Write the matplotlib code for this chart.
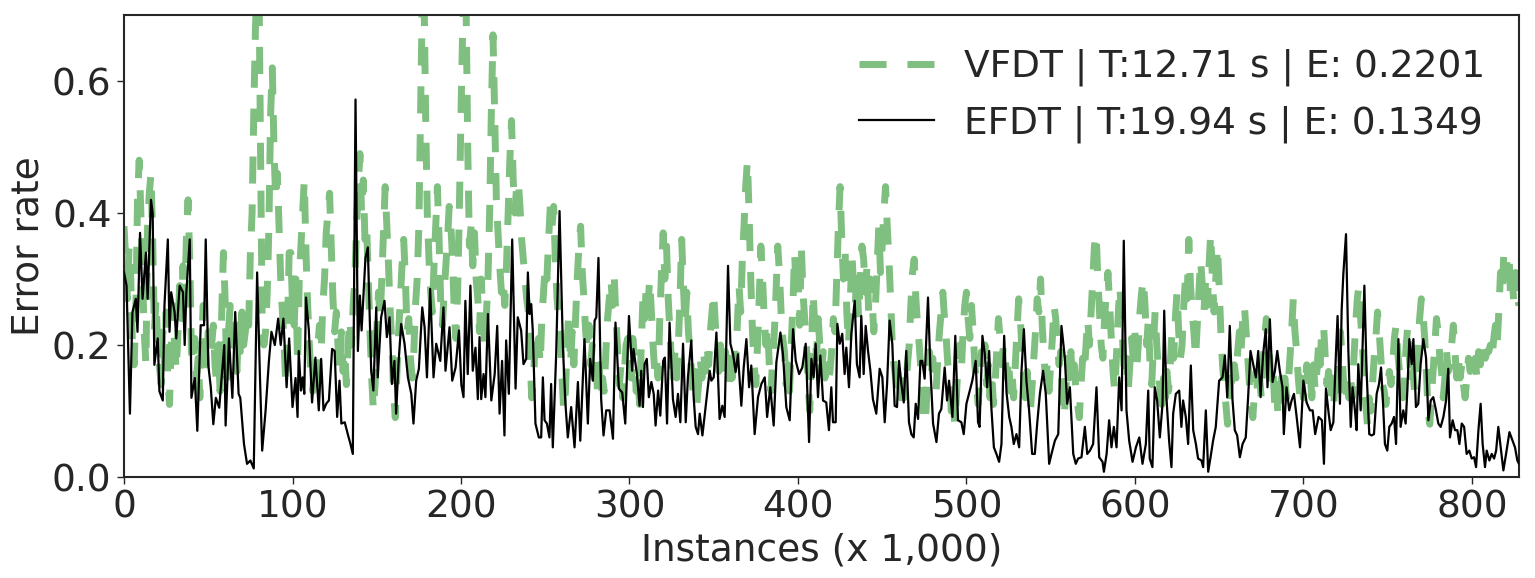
import numpy as np
import matplotlib
matplotlib.use("Agg")
import matplotlib.pyplot as plt

# ---------------- data ----------------
vfdt_label = "VFDT | T:12.71 s | E: 0.2201"
efdt_label = "EFDT | T:19.94 s | E: 0.1349"

# VFDT error rate, one value per 1,000 instances (x = 0 .. 828)
vfdt = [
    0.38,0.33,0.27,0.35,0.30,0.20,0.17,0.25,0.42,0.48,
    0.40,0.30,0.22,0.17,0.38,0.43,0.46,0.36,0.22,0.27,
    0.20,0.17,0.14,0.22,0.17,0.25,0.15,0.11,0.20,0.26,
    0.20,0.16,0.22,0.29,0.24,0.32,0.26,0.36,0.42,0.33,
    0.19,0.17,0.21,0.15,0.18,0.12,0.20,0.26,0.21,0.17,
    0.22,0.18,0.20,0.23,0.17,0.14,0.20,0.13,0.25,0.34,
    0.27,0.15,0.22,0.26,0.20,0.24,0.22,0.16,0.23,0.19,
    0.25,0.20,0.22,0.25,0.23,0.34,0.40,0.55,0.68,0.75,
    0.78,0.50,0.24,0.20,0.22,0.28,0.38,0.55,0.62,0.50,
    0.42,0.46,0.38,0.30,0.25,0.20,0.14,0.22,0.34,0.34,
    0.26,0.23,0.30,0.17,0.30,0.35,0.40,0.45,0.34,0.26,
    0.20,0.15,0.13,0.17,0.14,0.20,0.23,0.19,0.26,0.30,
    0.37,0.40,0.43,0.35,0.27,0.22,0.25,0.20,0.16,0.22,
    0.16,0.19,0.14,0.20,0.24,0.20,0.26,0.30,0.38,0.44,
    0.49,0.40,0.45,0.36,0.38,0.30,0.22,0.15,0.10,0.14,
    0.22,0.28,0.24,0.30,0.37,0.44,0.38,0.32,0.25,0.20,
    0.13,0.09,0.16,0.22,0.27,0.32,0.36,0.30,0.22,0.24,
    0.18,0.15,0.19,0.26,0.30,0.38,0.55,0.72,0.75,0.55,
    0.40,0.33,0.28,0.25,0.32,0.38,0.44,0.36,0.26,0.23,
    0.28,0.32,0.36,0.41,0.38,0.33,0.25,0.21,0.28,0.40,
    0.55,0.68,0.75,0.72,0.50,0.35,0.38,0.32,0.37,0.30,
    0.27,0.22,0.30,0.25,0.20,0.24,0.30,0.40,0.55,0.67,
    0.55,0.42,0.37,0.32,0.28,0.30,0.26,0.32,0.40,0.48,
    0.54,0.45,0.40,0.44,0.45,0.41,0.36,0.33,0.30,0.27,
    0.25,0.18,0.12,0.15,0.20,0.18,0.21,0.17,0.24,0.28,
    0.32,0.30,0.36,0.41,0.38,0.41,0.33,0.27,0.24,0.22,
    0.15,0.10,0.13,0.20,0.25,0.17,0.22,0.17,0.24,0.30,
    0.35,0.38,0.31,0.27,0.22,0.19,0.23,0.17,0.20,0.15,
    0.19,0.13,0.17,0.12,0.15,0.13,0.19,0.24,0.27,0.30,
    0.26,0.30,0.24,0.19,0.14,0.17,0.12,0.16,0.20,0.21,
    0.17,0.15,0.21,0.18,0.13,0.16,0.11,0.20,0.27,0.24,
    0.29,0.26,0.30,0.25,0.20,0.16,0.18,0.15,0.24,0.31,
    0.37,0.30,0.35,0.27,0.22,0.17,0.14,0.19,0.15,0.20,
    0.27,0.36,0.29,0.23,0.28,0.22,0.19,0.15,0.12,0.16,
    0.11,0.14,0.18,0.15,0.19,0.16,0.20,0.17,0.22,0.25,
    0.28,0.23,0.20,0.16,0.20,0.17,0.15,0.19,0.16,0.14,
    0.19,0.15,0.20,0.17,0.23,0.29,0.25,0.33,0.38,0.44,
    0.48,0.40,0.30,0.22,0.17,0.14,0.20,0.27,0.35,0.30,
    0.24,0.20,0.23,0.17,0.13,0.18,0.22,0.28,0.35,0.31,
    0.25,0.21,0.19,0.14,0.17,0.13,0.20,0.26,0.34,0.28,
    0.31,0.23,0.35,0.28,0.24,0.20,0.15,0.10,0.18,0.28,
    0.23,0.18,0.24,0.20,0.16,0.19,0.15,0.17,0.14,0.16,
    0.19,0.24,0.22,0.30,0.38,0.44,0.36,0.30,0.34,0.25,
    0.20,0.26,0.34,0.29,0.26,0.31,0.24,0.30,0.35,0.33,
    0.28,0.32,0.25,0.30,0.27,0.22,0.26,0.32,0.38,0.31,
    0.35,0.40,0.44,0.38,0.33,0.27,0.20,0.17,0.15,0.13,
    0.15,0.12,0.16,0.12,0.14,0.17,0.20,0.26,0.31,0.33,
    0.27,0.23,0.20,0.16,0.12,0.08,0.10,0.15,0.19,0.15,
    0.18,0.15,0.13,0.18,0.22,0.25,0.28,0.24,0.21,0.17,
    0.15,0.10,0.13,0.08,0.12,0.17,0.20,0.16,0.22,0.26,
    0.28,0.24,0.21,0.26,0.22,0.17,0.14,0.11,0.16,0.19,
    0.16,0.20,0.14,0.17,0.12,0.16,0.11,0.14,0.19,0.24,
    0.21,0.17,0.20,0.18,0.15,0.18,0.13,0.16,0.12,0.17,
    0.22,0.27,0.24,0.19,0.15,0.12,0.16,0.12,0.10,0.14,
    0.18,0.22,0.27,0.25,0.30,0.23,0.18,0.15,0.17,0.13,
    0.17,0.21,0.26,0.24,0.20,0.17,0.19,0.12,0.09,0.13,
    0.18,0.15,0.19,0.14,0.17,0.13,0.11,0.09,0.14,0.18,
    0.16,0.20,0.24,0.20,0.25,0.30,0.35,0.37,0.30,0.25,
    0.20,0.18,0.24,0.28,0.31,0.26,0.21,0.16,0.13,0.18,
    0.24,0.29,0.25,0.19,0.15,0.18,0.13,0.17,0.21,0.18,
    0.22,0.16,0.20,0.25,0.28,0.30,0.26,0.20,0.24,0.17,
    0.14,0.20,0.25,0.20,0.16,0.13,0.11,0.15,0.12,0.16,
    0.13,0.17,0.22,0.18,0.24,0.28,0.22,0.18,0.20,0.26,
    0.30,0.27,0.36,0.29,0.25,0.22,0.18,0.23,0.28,0.33,
    0.29,0.25,0.30,0.26,0.32,0.37,0.30,0.25,0.30,0.35,
    0.29,0.22,0.17,0.14,0.11,0.08,0.11,0.15,0.13,0.17,
    0.15,0.19,0.22,0.19,0.24,0.26,0.22,0.18,0.14,0.11,
    0.09,0.13,0.16,0.12,0.15,0.12,0.17,0.21,0.24,0.20,
    0.18,0.14,0.16,0.11,0.14,0.09,0.12,0.15,0.13,0.15,
    0.12,0.14,0.18,0.22,0.27,0.22,0.19,0.15,0.12,0.15,
    0.12,0.14,0.17,0.14,0.16,0.12,0.17,0.13,0.16,0.20,
    0.17,0.23,0.23,0.18,0.14,0.16,0.12,0.15,0.11,0.15,
    0.12,0.17,0.22,0.18,0.14,0.11,0.14,0.12,0.15,0.12,
    0.18,0.23,0.27,0.29,0.24,0.20,0.16,0.11,0.08,0.12,
    0.10,0.14,0.18,0.21,0.25,0.22,0.18,0.14,0.13,0.11,
    0.14,0.16,0.14,0.17,0.21,0.23,0.19,0.16,0.14,0.12,
    0.15,0.20,0.23,0.18,0.14,0.16,0.13,0.16,0.20,0.24,
    0.27,0.25,0.21,0.16,0.10,0.08,0.12,0.16,0.20,0.24,
    0.22,0.18,0.16,0.12,0.15,0.19,0.16,0.17,0.20,0.23,
    0.19,0.15,0.18,0.15,0.17,0.14,0.12,0.15,0.18,0.16,
    0.19,0.17,0.18,0.15,0.19,0.17,0.20,0.20,0.18,0.19,
    0.19,0.20,0.18,0.21,0.23,0.20,0.25,0.31,0.28,0.34,
    0.30,0.33,0.34,0.27,0.30,0.26,0.31,0.27,0.26,
]

# EFDT error rate readings: (instances x 1,000, error rate)
efdt_pairs = [
    (0,0.31),(1.5,0.29),(3.5,0.096),(5,0.25),(7,0.27),(8,0.22),(9.5,0.37),(11,0.27),
    (13,0.34),(14,0.27),(16,0.42),(17,0.40),(18,0.17),(20,0.21),(21,0.13),(23,0.116),
    (24,0.26),(26,0.36),(27,0.22),(28,0.28),(30,0.25),(31,0.21),(33,0.29),(35,0.28),
    (36,0.20),(37,0.28),(39,0.36),(40,0.12),(42,0.15),(43.5,0.07),(45.5,0.23),(47.5,0.23),
    (48.5,0.36),(50,0.17),(51.5,0.136),(53,0.08),(54.5,0.12),(56.5,0.105),(59.5,0.20),
    (60.3,0.078),(62.3,0.21),(64.3,0.12),(66,0.25),(68,0.126),(69,0.12),(71.2,0.05),
    (73,0.02),(75,0.025),(77,0.013),(79,0.31),(80.7,0.15),(82,0.04),(84,0.10),(86,0.176),
    (87.5,0.22),(89.5,0.20),(91.5,0.24),(93,0.20),(94.6,0.24),(96.5,0.136),(98,0.21),
    (100,0.106),(101.8,0.15),(103,0.091),(103.7,0.191),(105,0.131),(106,0.151),(107,0.126),
    (108,0.272),(109.7,0.222),(111.6,0.113),(113.6,0.181),(115.6,0.101),(117,0.179),
    (118.4,0.101),(120,0.111),(121.6,0.116),(123.5,0.194),(125,0.191),(126.5,0.091),
    (127.9,0.146),(129,0.081),(131,0.083),(132.8,0.065),(134.4,0.05),(135.8,0.035),
    (137.4,0.572),(138.8,0.191),(140,0.275),(141,0.222),(143.3,0.332),(144.7,0.348),
    (146.7,0.161),(148,0.131),(149.7,0.257),(150.6,0.151),(152.6,0.242),(154.6,0.267),
    (156,0.212),(157.6,0.242),(159,0.141),(160.5,0.176),(161.5,0.096),(163,0.176),
    (164.5,0.232),(166.5,0.202),(168.5,0.151),(170.5,0.126),(171.8,0.081),(173.4,0.146),
    (175,0.164),(177,0.257),(178.4,0.227),(179.8,0.151),(181.7,0.285),(183.7,0.151),
    (185.3,0.202),(187.7,0.176),(189.6,0.257),(190.8,0.161),(193.2,0.227),(194.8,0.146),
    (196.8,0.166),(198.8,0.222),(200.2,0.14),(201.5,0.121),(202.6,0.267),(204,0.156),
    (205.6,0.29),(207,0.161),(208.6,0.196),(210,0.118),(211,0.212),(212,0.118),
    (213.4,0.156),(214.5,0.121),(216,0.247),(218,0.116),(220,0.156),(221.5,0.229),
    (222.9,0.096),(224.4,0.176),(225.8,0.063),(226.8,0.207),(228.4,0.126),(230.4,0.36),
    (232.4,0.134),(233.7,0.242),(235.7,0.222),(237.1,0.171),(238.7,0.179),(239.7,0.31),
    (240.7,0.247),(241.7,0.262),(242.6,0.222),(244.2,0.081),(246.2,0.06),(247.6,0.06),
    (248.6,0.151),(249.6,0.086),(251,0.081),(252.5,0.06),(253.5,0.141),(254.5,0.045),
    (256.5,0.186),(258.5,0.403),(260.5,0.196),(262,0.111),(263.4,0.06),(265.4,0.106),
    (267.4,0.045),(269.4,0.144),(270.8,0.055),(273.3,0.209),(275.3,0.081),(276.7,0.179),
    (278.3,0.146),(279.3,0.237),(280.3,0.242),(281.6,0.332),(283.2,0.118),(284.6,0.063),
    (286.2,0.101),(288.2,0.101),(290.2,0.058),(291.7,0.234),(293.7,0.134),(295.7,0.128),
    (297.5,0.081),(299.7,0.244),(301.6,0.161),(302.4,0.194),(304.4,0.156),(306,0.108),
    (307,0.161),(308,0.106),(309,0.171),(310.3,0.179),(311.5,0.121),(313,0.144),
    (314.4,0.126),(315.5,0.078),(317,0.131),(318.3,0.093),(320,0.176),(321,0.181),
    (322.3,0.081),(323.8,0.234),(325.8,0.118),(327.4,0.091),(328.8,0.126),(330.2,0.083),
    (331.8,0.202),(333.4,0.083),(334.7,0.151),(336.7,0.207),(338.1,0.121),(339.3,0.076),
    (340.7,0.065),(341.7,0.096),(343.3,0.063),(345.6,0.116),(347.6,0.161),(348.6,0.146),
    (350,0.151),(351.6,0.219),(353.5,0.088),(355.1,0.108),(356.5,0.091),(358.5,0.32),
    (359.9,0.202),(361.5,0.186),(363,0.159),(364.4,0.186),(366.4,0.108),(367.8,0.166),
    (369.4,0.209),(371,0.136),(372.3,0.169),(374.3,0.065),(376.3,0.121),(378.3,0.141),
    (380.3,0.151),(381.7,0.091),(383.6,0.136),(385.6,0.078),(387.2,0.174),(389.6,0.219),
    (391.1,0.186),(393.1,0.106),(395.1,0.086),(397.1,0.224),(398.7,0.176),(400.7,0.156),
    (402.6,0.166),(404.6,0.202),(406.6,0.053),(408,0.179),(409.3,0.151),(410.5,0.202),
    (411.9,0.121),(413.3,0.184),(414.9,0.116),(416.8,0.113),(418.4,0.071),(419.8,0.136),
    (420.8,0.083),(422.4,0.083),(423.4,0.232),(424.8,0.202),(426.3,0.217),(427.7,0.156),
    (428.7,0.196),(430.3,0.136),(431.7,0.217),(433.7,0.267),(435,0.171),(436.6,0.151),
    (437.6,0.244),(439,0.156),(440.2,0.229),(441.6,0.191),(443,0.161),(444.5,0.118),
    (446.5,0.096),(448.5,0.164),(450.1,0.151),(451.5,0.083),(452.9,0.141),(454.4,0.237),
    (456,0.202),(457.4,0.108),(458.8,0.106),(460,0.176),(461.4,0.141),(462.8,0.113),
    (464.3,0.191),(465.9,0.083),(467.3,0.065),(468.7,0.06),(469.9,0.111),(471.3,0.088),
    (472.7,0.176),(473.8,0.176),(475.2,0.149),(477.2,0.272),(478.6,0.166),(480.2,0.081),
    (482.2,0.053),(483.7,0.096),(485.1,0.103),(487.1,0.166),(488.5,0.116),(489.7,0.146),
    (491.7,0.091),(493.4,0.214),(495,0.086),(497,0.083),(498.4,0.065),(500,0.111),
    (502,0.131),(503.5,0.146),(505.5,0.176),(506.9,0.083),(507.8,0.076),(509.5,0.214),
    (510.9,0.186),(512.3,0.136),(513.5,0.191),(514.9,0.101),(516.3,0.045),(517.8,0.035),
    (519.4,0.023),(520.8,0.05),(522.4,0.214),(523.8,0.128),(525.4,0.091),(526.7,0.076),
    (528.1,0.05),(529.7,0.065),(531.3,0.045),(532.7,0.161),(534.1,0.224),(535.6,0.146),
    (537.2,0.101),(539,0.035),(540.6,0.035),(542,0.081),(543.6,0.126),(545.5,0.161),
    (547.1,0.126),(549.1,0.02),(550.5,0.035),(552.5,0.055),(554.5,0.065),(556.4,0.229),
    (558.4,0.181),(559.8,0.111),(561.4,0.136),(563.4,0.035),(564.9,0.02),(566.3,0.028),
    (568.3,0.03),(570.3,0.076),(571.7,0.035),(573.3,0.04),(575.2,0.05),(577.2,0.136),
    (578.8,0.03),(580.8,0.023),(581.6,0.008),(583.2,0.035),(584.7,0.086),(586.1,0.045),
    (587.5,0.076),(589.1,0.045),(590.7,0.151),(592.1,0.101),(593.4,0.358),(595,0.101),
    (596.6,0.055),(598.6,0.023),(600.6,0.045),(602.6,0.06),(604.5,0.02),(606.5,0.05),
    (607.9,0.131),(608.8,0.028),(610.4,0.015),(611.8,0.136),(613.2,0.116),(614.8,0.06),
    (616.4,0.111),(617.4,0.252),(618.7,0.121),(620.3,0.055),(621.7,0.015),(622.7,0.096),
    (624.3,0.126),(626.3,0.131),(627.6,0.076),(628.6,0.116),(630.2,0.091),(631.6,0.05),
    (633.2,0.169),(634.6,0.071),(636.2,0.05),(637.5,0.028),(639.5,0.025),(640.5,0.015),
    (642.1,0.101),(643.5,0.008),(644.9,0.03),(646.4,0.055),(648,0.076),(650,0.146),
    (652,0.151),(653.4,0.184),(654.8,0.121),(656.3,0.229),(657.9,0.118),(659.3,0.071),
    (660.7,0.063),(662.3,0.03),(663.9,0.05),(665.8,0.06),(667.2,0.121),(668.6,0.191),
    (670.2,0.171),(671.8,0.151),(673.2,0.191),(674.6,0.121),(676.1,0.186),(677.7,0.224),
    (678.7,0.136),(680.1,0.239),(681.7,0.144),(683.1,0.161),(684.5,0.191),(686,0.161),
    (687.6,0.136),(688.4,0.065),(690,0.136),(691.6,0.101),(693,0.116),(694.4,0.126),
    (696,0.091),(698,0.045),(700,0.146),(701.9,0.113),(703.9,0.101),(705.5,0.101),
    (707,0.065),(709,0.091),(711,0.086),(712.2,0.02),(713.4,0.134),(714.8,0.101),
    (716.2,0.071),(717.8,0.083),(719.3,0.186),(720.3,0.244),(721.7,0.111),(722.7,0.252),
    (723.7,0.307),(725.3,0.368),(726.7,0.191),(728.1,0.076),(729.2,0.136),(730.6,0.101),
    (731.6,0.071),(732.6,0.171),(734,0.101),(735.2,0.202),(736.2,0.29),(737.5,0.161),
    (739.1,0.065),(740.5,0.063),(741.9,0.065),(743.5,0.126),(744.9,0.141),(746.1,0.166),
    (747.1,0.121),(748.4,0.05),(749.8,0.04),(751,0.076),(752.4,0.081),(753.8,0.091),
    (755,0.05),(756.4,0.209),(757.7,0.076),(759.3,0.101),(760.7,0.081),(761.7,0.131),
    (762.9,0.209),(764.3,0.171),(765.3,0.209),(766.8,0.106),(768.2,0.111),(769.6,0.171),
    (771.2,0.209),(772.8,0.181),(774.2,0.086),(775.6,0.116),(777.1,0.121),(778.7,0.101),
    (780.1,0.081),(781.5,0.076),(783.1,0.091),(784.7,0.116),(786,0.164),(787,0.06),
    (788.6,0.086),(790,0.071),(791.4,0.071),(792.6,0.05),(794,0.081),(795.4,0.076),
    (796.9,0.035),(798.5,0.04),(799.9,0.028),(801.3,0.03),(802.5,0.015),(803.9,0.071),
    (805.2,0.111),(806.4,0.05),(807.8,0.015),(808.8,0.04),(810.4,0.025),(811.8,0.035),
    (813.2,0.028),(814.4,0.04),(815.7,0.076),(817.1,0.045),(818.7,0.01),(820.3,0.035),
    (822.3,0.068),(824.2,0.055),(825.6,0.045),(827,0.025),(828,0.02),
]

x_ticks = [0, 100, 200, 300, 400, 500, 600, 700, 800]
y_ticks = [0.0, 0.2, 0.4, 0.6]

# ---------------- plotting ----------------
TXT = "#262626"
FS = 27
plt.rcParams["font.family"] = ["DejaVu Sans"]
plt.rcParams["text.color"] = TXT
plt.rcParams["axes.labelcolor"] = TXT
plt.rcParams["xtick.color"] = TXT
plt.rcParams["ytick.color"] = TXT

fig = plt.figure(figsize=(15.35, 5.78), dpi=100)
ax = fig.add_axes([0.0808, 0.1747, 0.9088, 0.7993])

vx = np.arange(len(vfdt))
ex, ey = zip(*efdt_pairs)

ax.plot(vx, vfdt, color="#7fbf7f", lw=5, linestyle=(0, (3.9, 3.0)),
        dash_capstyle="butt", label=vfdt_label, zorder=2)
ax.plot(ex, ey, color="black", lw=1.6, label=efdt_label, zorder=3)

ax.set_xlim(0, 828)
ax.set_ylim(0, 0.7)
ax.set_xticks(x_ticks)
ax.set_yticks(y_ticks)
ax.set_yticklabels([f"{v:.1f}" for v in y_ticks])
ax.tick_params(labelsize=FS, length=5, width=1.0, direction="out", pad=4)
ax.set_xlabel("Instances (x 1,000)", fontsize=FS, labelpad=5)
ax.set_ylabel("Error rate", fontsize=FS, labelpad=4)
for s in ax.spines.values():
    s.set_color(TXT)
    s.set_linewidth(1.5)

ax.legend(loc="upper right", frameon=False, fontsize=FS)

fig.savefig("out.png", dpi=100)
